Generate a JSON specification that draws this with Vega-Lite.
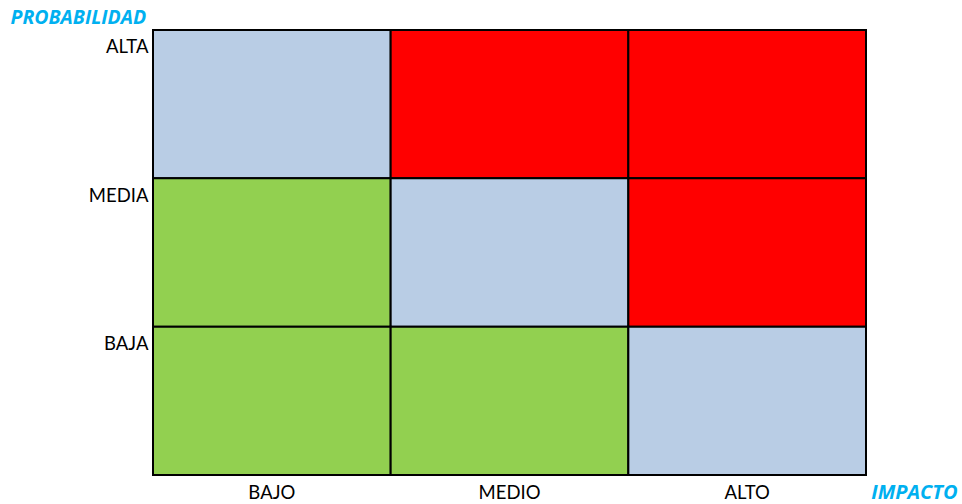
{
  "$schema": "https://vega.github.io/schema/vega-lite/v6.json",
  "width": 713,
  "height": 445,
  "autosize": {"type": "none"},
  "padding": {"left": 153, "top": 30, "right": 96, "bottom": 29},
  "background": "white",
  "config": {"view": {"stroke": null}, "font": "Lato"},
  "data": {
    "values": [
      {"probabilidad": "ALTA", "impacto": "BAJO", "riesgo": "Moderado"},
      {"probabilidad": "ALTA", "impacto": "MEDIO", "riesgo": "Alto"},
      {"probabilidad": "ALTA", "impacto": "ALTO", "riesgo": "Alto"},
      {"probabilidad": "MEDIA", "impacto": "BAJO", "riesgo": "Bajo"},
      {"probabilidad": "MEDIA", "impacto": "MEDIO", "riesgo": "Moderado"},
      {"probabilidad": "MEDIA", "impacto": "ALTO", "riesgo": "Alto"},
      {"probabilidad": "BAJA", "impacto": "BAJO", "riesgo": "Bajo"},
      {"probabilidad": "BAJA", "impacto": "MEDIO", "riesgo": "Bajo"},
      {"probabilidad": "BAJA", "impacto": "ALTO", "riesgo": "Moderado"}
    ]
  },
  "mark": {"type": "rect", "stroke": "black", "strokeWidth": 2},
  "encoding": {
    "x": {
      "field": "impacto",
      "type": "nominal",
      "sort": ["BAJO", "MEDIO", "ALTO"],
      "scale": {"paddingInner": 0, "paddingOuter": 0},
      "axis": {
        "title": "IMPACTO",
        "titleFont": "Open Sans",
        "titleFontStyle": "italic",
        "titleFontWeight": "bold",
        "titleFontSize": 20,
        "titleColor": "#00B0F0",
        "titleAlign": "right",
        "titleBaseline": "middle",
        "titleX": 804,
        "titleY": 17,
        "labelAngle": 0,
        "labelFontSize": 18.5,
        "labelColor": "black",
        "labelPadding": 8,
        "ticks": false,
        "domain": false,
        "grid": false
      }
    },
    "y": {
      "field": "probabilidad",
      "type": "nominal",
      "sort": ["ALTA", "MEDIA", "BAJA"],
      "scale": {"paddingInner": 0, "paddingOuter": 0},
      "axis": {
        "title": "PROBABILIDAD",
        "titleFont": "Open Sans",
        "titleFontStyle": "italic",
        "titleFontWeight": "bold",
        "titleFontSize": 19.5,
        "titleColor": "#00B0F0",
        "titleAngle": 0,
        "titleAlign": "left",
        "titleBaseline": "middle",
        "titleX": -143,
        "titleY": -13,
        "labelBaseline": "middle",
        "labelOffset": -57,
        "labelFontSize": 18.5,
        "labelColor": "black",
        "labelPadding": 5,
        "ticks": false,
        "domain": false,
        "grid": false
      }
    },
    "color": {
      "field": "riesgo",
      "type": "nominal",
      "scale": {
        "domain": ["Bajo", "Moderado", "Alto"],
        "range": ["#92D050", "#B9CDE5", "#FF0000"]
      },
      "legend": null
    }
  }
}
